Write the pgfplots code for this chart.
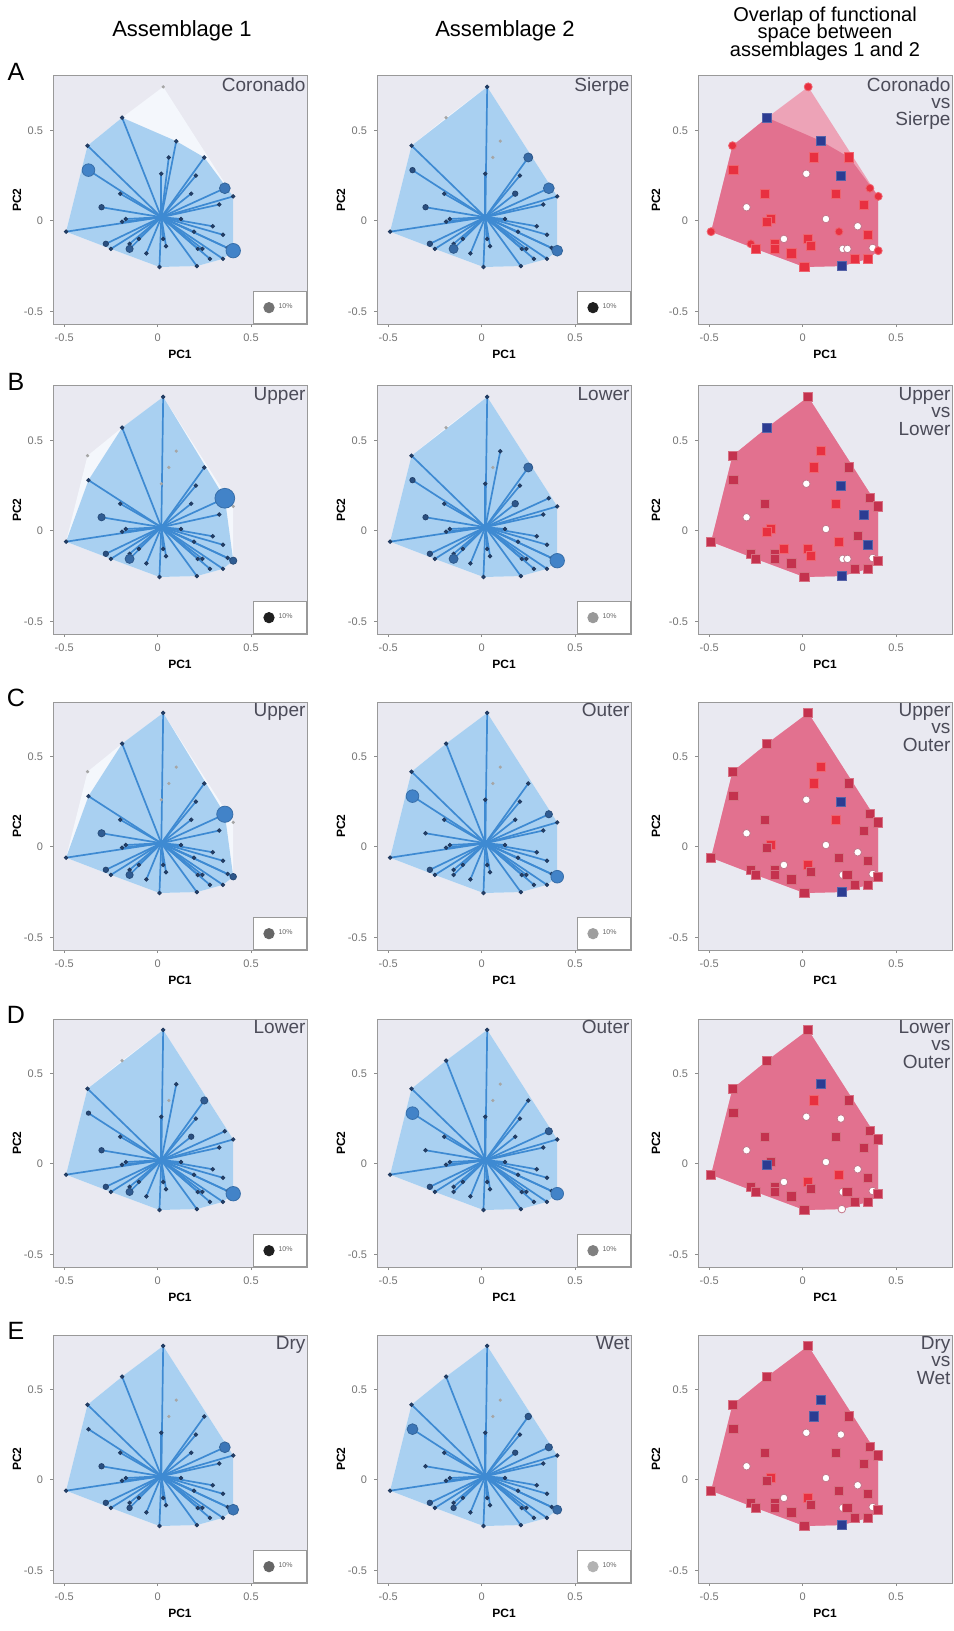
\documentclass[border=0pt]{standalone}
\usepackage{pgfplots}
\usepackage{pgfplotstable}
\pgfplotsset{compat=1.18}
\usepackage{fontspec}
\setmainfont{Liberation Sans}

\definecolor{bgc}{HTML}{E9E9F1}
\definecolor{hullout}{HTML}{F4F7FC}
\definecolor{hullin}{HTML}{A9D0F1}
\definecolor{spokec}{HTML}{3E8AD2}
\definecolor{circf}{HTML}{4283C8}
\definecolor{circd}{HTML}{24426E}
\definecolor{pinkhull}{HTML}{E2718F}
\definecolor{pinklight}{HTML}{EDA3B7}
\definecolor{redc}{HTML}{E83040}
\definecolor{maroonc}{HTML}{C4324E}
\definecolor{bluec}{HTML}{2C3C92}
\definecolor{sitec}{HTML}{4B4B58}

\newcommand\tightlines{\setlength{\lineskiplimit}{-20pt}\setlength{\lineskip}{0pt}}

% species positions in the functional space (PC1, PC2);
% r.. = symbol radius (pt) in each assemblage, 0 = species absent;
% c.. = overlap class (R/C only in 1, M shared, B only in 2, W neither)
\pgfplotstableread{
id x y rA1 rA2 rB1 rB2 rC1 rC2 rD1 rD2 rE1 rE2 cA cB cC cD cE
1 0.03 0.74 0 1 1 1 1 1 1 1 1 1 C M M M M
2 -0.19 0.57 1 0 1 0 1 1 0 1 1 1 B B M M M
3 0.10 0.44 1 0 0 1 0 0 1 0 0 0 B R R B B
4 -0.375 0.415 1 1 0 1 0 1 1 1 1 1 C M M M M
5 -0.37 0.28 3.5 1.5 1 1.5 1 3.5 1.2 3.5 1 3 R M M M M
6 0.06 0.35 1 0 0 0 0 0 0 0 0 0 R R R R B
7 0.25 0.35 1 2.5 1 2.5 1 1 2 1 1 1.8 R M M M M
8 0.02 0.26 1 1 0 1 0 1 1 1 1 1 W W W W W
9 0.205 0.25 1 1 1 1 1 1 1 1 1 1 B B B W W
10 -0.20 0.15 1 1 1 1 1 1 1 1 1 1 R M M M M
11 0.18 0.15 1 1.5 1 1.8 1 1 1.5 1 1 1.5 R R R M M
12 0.36 0.18 3 3 5.5 1 4.5 2 1 2 3 2 C M M M M
13 0.405 0.135 1 1 0 1 0 1 1 1 1 1 C M M M M
14 0.33 0.09 1 1 1 1 1 1 1 1 1 1 R B M M M
15 -0.30 0.075 1.5 1.5 2 1.5 2 1 1.5 1 1.5 1 W W W W W
16 -0.17 0.01 1 1 1 1 1 1 1 1 1 1 R R R M R
17 -0.19 -0.005 1 1 1 1 1 1 1 1 1 1 R R M B M
18 0.125 0.01 1 1 1 1 1 1 1 1 1 1 W W W W W
19 0.195 -0.06 1 1 1 1 1 1 1 1 1 1 C R M R M
20 0.295 -0.03 1 1 1 1 1 1 1 1 1 1 W M W W W
21 -0.49 -0.06 1 1 1 1 1 1 1 1 1 1 C M M M M
22 0.35 -0.077 1 1 1 1 1 1 1 1 1 1 R B M M M
23 -0.277 -0.127 1.5 1.5 1.5 1.5 1.5 1.5 1.5 1.5 1.5 1.5 C M M M M
24 -0.25 -0.155 1 1 1 1 1 1 1 1 1 1 R M M M M
25 -0.15 -0.127 1 1 1 1 1 1 1 1 1 1 R M M M M
26 -0.15 -0.155 2 2.5 2.5 2.5 2 1 2 1 1.5 1.5 R M M M M
27 -0.10 -0.10 1 1 1 1 1 1 1 1 1 1 W R W W W
28 0.03 -0.10 1 1 1 1 1 1 1 1 1 1 R R R R R
29 0.045 -0.14 1 1 1 1 1 1 1 1 1 1 R R M M M
30 -0.06 -0.18 1 1 1 1 1 1 1 1 1 1 R M M M M
31 0.215 -0.155 1 1 1 1 1 1 1 1 1 1 W W W W W
32 0.24 -0.155 1 1 1 1 1 1 1 1 1 1 W W M M M
33 0.375 -0.15 1 1 1 1 1 1 1 1 1 1 W W W W W
34 0.405 -0.165 4 3 2 4 1.8 3.5 4 3.5 3 2.5 C M M M M
35 0.28 -0.21 1 1 1 1 1 1 1 1 1 1 R M M M M
36 0.35 -0.21 1 1 1 1 1 1 1 1 1 1 R M M M M
37 0.21 -0.25 1 1 1 1 1 1 1 1 1 1 B B B W B
38 0.01 -0.255 1 1 1 1 1 1 1 1 1 1 R M M M M
}\species

% convex hulls
\pgfplotstableread{
x y
0.03 0.74
0.405 0.135
0.405 -0.165
0.35 -0.21
0.21 -0.25
0.01 -0.255
-0.25 -0.155
-0.49 -0.06
-0.375 0.415
-0.19 0.57
}\hullall
\pgfplotstableread{
x y
-0.19 0.57
0.10 0.44
0.25 0.35
0.405 0.135
0.405 -0.165
0.35 -0.21
0.21 -0.25
0.01 -0.255
-0.25 -0.155
-0.49 -0.06
-0.375 0.415
}\hullcor
\pgfplotstableread{
x y
0.03 0.74
0.36 0.18
0.405 -0.165
0.35 -0.21
0.21 -0.25
0.01 -0.255
-0.25 -0.155
-0.49 -0.06
-0.37 0.28
-0.19 0.57
}\hullupper
\pgfplotstableread{
x y
0.03 0.74
0.405 0.135
0.405 -0.165
0.35 -0.21
0.21 -0.25
0.01 -0.255
-0.25 -0.155
-0.49 -0.06
-0.375 0.415
}\hulllower

\tikzset{
  site/.style={anchor=north east, inner sep=0.6pt, text=sitec, align=right,
    font=\fontsize{9.5}{8.6}\selectfont\tightlines},
}
\pgfplotsset{
  panel/.style={
    scale only axis, width=127pt, height=124pt, anchor=north west,
    xmin=-0.56, xmax=0.80, ymin=-0.57, ymax=0.80,
    axis background/.style={fill=bgc},
    axis line style={draw=black!40, line width=0.5pt},
    xtick={-0.5,0,0.5}, ytick={-0.5,0,0.5},
    xticklabels={-0.5,0,0.5}, yticklabels={-0.5,0,0.5},
    xtick pos=bottom, ytick pos=left,
    tick align=outside, major tick length=1.5pt,
    tick style={black!45, line width=0.4pt},
    tick label style={font=\fontsize{5.5}{6}\selectfont, text=black!55},
    xlabel={PC1}, ylabel={PC2},
    every axis x label/.style={at={(rel axis cs:0.5,0)}, yshift=-15pt, anchor=center,
      font=\bfseries\fontsize{6}{7}\selectfont},
    every axis y label/.style={at={(rel axis cs:0,0.5)}, xshift=-18pt, rotate=90, anchor=center,
      font=\bfseries\fontsize{6}{7}\selectfont},
    legend style={at={(1,0)}, anchor=south east, draw=black!40, fill=white,
      font=\fontsize{3.5}{4}\selectfont, text=black!60,
      inner xsep=5pt, inner ysep=4pt, line width=0.4pt},
    legend image code/.code={\path[##1] (2.6pt,0pt) circle (2.6pt);},
    colormap={blu}{color(0)=(circd) color(1)=(circf)},
  },
  spoke/.style={draw=spokec, line width=0.85pt, forget plot},
}

% assemblage panel: radius column, position, hull, site name, key colour
\newcommand\asm[6]{%
\begin{axis}[panel, at={(#2,#3)}]
  \addlegendimage{fill=#6, draw=#6}
  \addlegendentry{10\%}
  \addplot[fill=hullout, draw=none, forget plot] table[x=x,y=y] {\hullall} -- cycle;
  \addplot[fill=hullin, draw=none, forget plot] table[x=x,y=y] {#4} -- cycle;
  \addplot[spoke, quiver={u=\thisrow{x}-0.02, v=\thisrow{y}-0.02},
    restrict expr to domain={\thisrow{#1}}{0.5:20}]
    table[x expr=0.02, y expr=0.02] {\species};
  \addplot[only marks, mark=*, mark size=0.6pt, color=black!35, forget plot,
    restrict expr to domain={\thisrow{#1}}{-1:0.2}]
    table[x=x,y=y] {\species};
  \addplot[scatter, only marks, mark=*, forget plot,
    restrict expr to domain={\thisrow{#1}}{0.5:20},
    point meta=\thisrow{#1}, point meta min=1, point meta max=3.5,
    scatter/use mapped color={draw=mapped color!85!black, fill=mapped color},
    visualization depends on={\thisrow{#1} \as \psize},
    scatter/@pre marker code/.append style={/tikz/mark size=0.9*\psize}]
    table[x=x,y=y] {\species};
  \node[site] at (rel axis cs:1,1) {#5};
\end{axis}}

% overlap panel: class column, position, site text, hull of shared space
\newcommand\ovl[5]{%
\begin{axis}[panel, at={(#2,#3)},
  every axis y label/.style={at={(rel axis cs:0,0.5)}, xshift=-21pt, rotate=90, anchor=center,
    font=\bfseries\fontsize{6}{7}\selectfont}]
  \addplot[fill=pinklight, draw=none, forget plot] table[x=x,y=y] {\hullall} -- cycle;
  \addplot[fill=pinkhull, draw=none, forget plot] table[x=x,y=y] {#5} -- cycle;
  \addplot[scatter, only marks, forget plot, point meta=explicit symbolic,
    scatter/classes={
      R={mark=square*, mark size=2.3pt, fill=redc, draw=redc!75!white},
      C={mark=*, mark size=2pt, fill=redc, draw=redc!75!white},
      M={mark=square*, mark size=2.3pt, fill=maroonc, draw=maroonc!70!white},
      B={mark=square*, mark size=2.3pt, fill=bluec, draw=bluec!80!white},
      W={mark=*, mark size=1.9pt, fill=white, draw=pinkhull!70!gray}}]
    table[x=x, y=y, meta=#1] {\species};
  \node[site] at (rel axis cs:1,1) {#4};
\end{axis}}

\begin{document}
\begin{tikzpicture}
\useasboundingbox (0,0) rectangle (476.5pt,-815.5pt);

\node[font=\fontsize{11}{13}\selectfont] at (91pt,-15.5pt) {Assemblage 1};
\node[font=\fontsize{11}{13}\selectfont] at (252.5pt,-15.5pt) {Assemblage 2};
\node[font=\fontsize{10}{8.7}\selectfont\tightlines, align=center] at (412.5pt,-16.8pt)
  {Overlap of functional\\space between\\assemblages 1 and 2};

\foreach \lab/\yy in {A/-36, B/-191, C/-349, D/-507.5, E/-665.5}
  \node[font=\fontsize{12.5}{14}\selectfont] at (8pt,\yy pt) {\lab};

% row A
\asm{rA1}{26.5pt}{-38pt}{\hullcor}{Coronado}{black!55}
\asm{rA2}{188.5pt}{-38pt}{\hulllower}{Sierpe}{black!88}
\ovl{cA}{349pt}{-38pt}{Coronado\\vs\\Sierpe}{\hullcor}
% row B
\asm{rB1}{26.5pt}{-193pt}{\hullupper}{Upper}{black!88}
\asm{rB2}{188.5pt}{-193pt}{\hulllower}{Lower}{black!40}
\ovl{cB}{349pt}{-193pt}{Upper\\vs\\Lower}{\hullall}
% row C
\asm{rC1}{26.5pt}{-351pt}{\hullupper}{Upper}{black!60}
\asm{rC2}{188.5pt}{-351pt}{\hullall}{Outer}{black!38}
\ovl{cC}{349pt}{-351pt}{Upper\\vs\\Outer}{\hullall}
% row D
\asm{rD1}{26.5pt}{-509.5pt}{\hulllower}{Lower}{black!88}
\asm{rD2}{188.5pt}{-509.5pt}{\hullall}{Outer}{black!50}
\ovl{cD}{349pt}{-509.5pt}{Lower\\vs\\Outer}{\hullall}
% row E
\asm{rE1}{26.5pt}{-667.5pt}{\hullall}{Dry}{black!60}
\asm{rE2}{188.5pt}{-667.5pt}{\hullall}{Wet}{black!30}
\ovl{cE}{349pt}{-667.5pt}{Dry\\vs\\Wet}{\hullall}
\end{tikzpicture}
\end{document}
